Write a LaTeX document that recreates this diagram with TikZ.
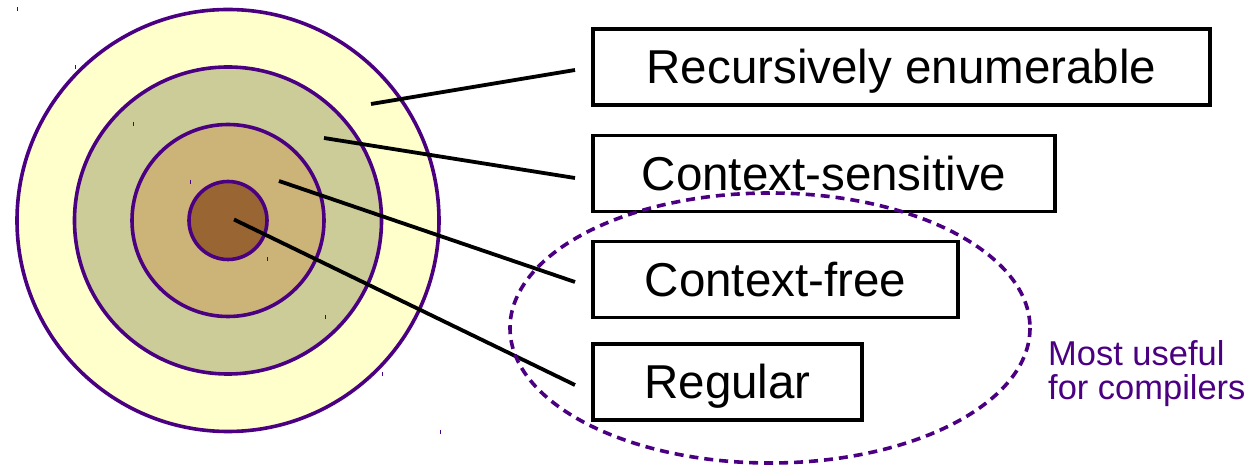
\documentclass[tikz,border=0pt]{standalone}
\usepackage{fontspec}
\setmainfont{Liberation Sans}
\definecolor{ink}{HTML}{4B0082}
\definecolor{ringA}{HTML}{FFFFCC}
\definecolor{ringB}{HTML}{CCCC99}
\definecolor{ringC}{HTML}{CCB377}
\definecolor{ringD}{HTML}{996633}
\begin{document}
\begin{tikzpicture}[x=1bp,y=-1bp,
  ring/.style={circle, draw=ink, line width=3.6bp, inner sep=0pt},
  langbox/.style={rectangle, draw=black, line width=3.2bp, inner sep=0pt,
    minimum height=76bp, text height=34bp, text depth=0pt,
    font=\fontsize{47.7}{50}\selectfont},
  leader/.style={draw=black, line width=3.8bp},
  tick/.style={draw=ink, line width=1bp},
  note/.style={text=ink, align=left, inner sep=0pt,
    font=\fontsize{34.6}{35}\selectfont}]
\useasboundingbox (0,0) rectangle (1249,466);

% nested language classes
\node[ring, fill=ringA, minimum size=422bp] (c0) at (228,220.5) {};
\node[ring, fill=ringB, minimum size=307bp] (c1) at (228,220.5) {};
\node[ring, fill=ringC, minimum size=192bp] (c2) at (228,220.5) {};
\node[ring, fill=ringD, minimum size=78bp]  (c3) at (228,220.5) {};

% small corner marks of the rings
\foreach \x/\y in {17/9, 75/67, 133/124, 190/182, 267/259, 325/317, 382/374, 440/432}
  \draw[tick] (\x,\y-2) -- (\x,\y+2);

% labels
\node[langbox, minimum width=617bp] (re) at (901.5,67)  {Recursively enumerable};
\node[langbox, minimum width=462bp] (cs) at (824,173.5) {Context-sensitive};
\node[langbox, minimum width=365bp] (cf) at (775.5,279.5) {Context-free};
\node[langbox, minimum width=269bp] (rg) at (727.5,382) {Regular};

% leader lines from each ring to its label
\coordinate (p0) at (371,104);  \coordinate (q0) at (575,70);
\coordinate (p1) at (324,138);  \coordinate (q1) at (575,178);
\coordinate (p2) at (279,181);  \coordinate (q2) at (575,282);
\coordinate (p3) at (234,219.5);\coordinate (q3) at (575,385);
\draw[leader] (p0) -- (q0);
\draw[leader] (p1) -- (q1);
\draw[leader] (p2) -- (q2);
\draw[leader] (p3) -- (q3);

% grouping of the classes used in compilers
\coordinate (grp) at (770,328);
\draw[ink, line width=3.6bp, dash pattern=on 9bp off 6bp]
  (grp) ellipse [x radius=260, y radius=135];
\node[note, anchor=base west] (useful) at (1048,400) {Most useful\\for compilers};
\end{tikzpicture}
\end{document}
